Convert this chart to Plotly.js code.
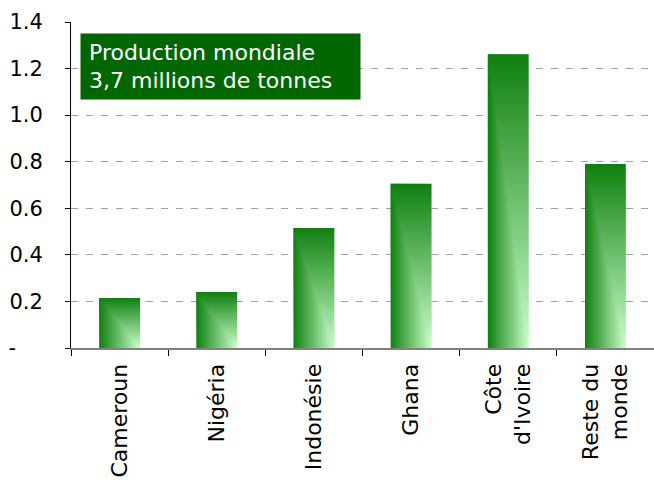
<!DOCTYPE html>
<html>
<head>
<meta charset="utf-8">
<script src="https://cdn.plot.ly/plotly-3.0.1.min.js"></script>
<style>
html,body{margin:0;padding:0;background:#fff;}
#chart{width:654px;height:482px;}
</style>
</head>
<body>
<div id="chart"></div>
<script>
const categories = ["Cameroun", "Nigéria", "Indonésie", "Ghana", "Côte<br>d'Ivoire", "Reste du<br>monde"];
const production = [0.215, 0.24, 0.515, 0.705, 1.262, 0.79];
const yTickVals = [0, 0.2, 0.4, 0.6, 0.8, 1.0, 1.2, 1.4];
const yTickText = ["-\u00A0\u00A0\u00A0\u00A0", "0.2", "0.4", "0.6", "0.8", "1.0", "1.2", "1.4"];
const noteText = "Production mondiale<br>3,7 millions de tonnes";

const FONT = "DejaVu Sans, Verdana, sans-serif";

const trace = {
  type: "bar",
  x: categories,
  y: production,
  width: 0.42,
  marker: {color: "#2e8b2e", line: {width: 0}},
  hoverinfo: "none"
};

const layout = {
  width: 654,
  height: 482,
  margin: {l: 71, r: 0, t: 22, b: 134, pad: 0},
  paper_bgcolor: "#ffffff",
  plot_bgcolor: "#ffffff",
  showlegend: false,
  font: {family: FONT, size: 21, color: "#000000"},
  xaxis: {
    type: "category",
    tickangle: -90,
    tickson: "boundaries",
    ticks: "outside",
    ticklen: 6,
    tickcolor: "#000000",
    tickwidth: 1,
    showline: true,
    linecolor: "#808080",
    linewidth: 2,
    showgrid: false,
    ticklabelstandoff: 5,
    tickfont: {family: FONT, size: 22, color: "#000000"}
  },
  yaxis: {
    range: [0, 1.4],
    tickmode: "array",
    tickvals: yTickVals,
    ticktext: yTickText,
    ticks: "outside",
    ticklen: 5,
    tickcolor: "#000000",
    showline: true,
    linecolor: "#000000",
    linewidth: 1,
    zeroline: false,
    showgrid: true,
    gridcolor: "#a0a0a0",
    gridwidth: 1,
    griddash: "7px,8px",
    ticklabelstandoff: 18,
    tickfont: {family: FONT, size: 21, color: "#000000"}
  },
  annotations: [{
    xref: "paper", yref: "paper",
    x: 0.0155, y: 0.966,
    xanchor: "left", yanchor: "top",
    text: noteText,
    showarrow: false,
    align: "left",
    bgcolor: "#006600",
    borderpad: 8,
    width: 263,
    height: 49,
    font: {family: FONT, size: 22, color: "#ffffff"}
  }]
};

Plotly.newPlot("chart", [trace], layout, {displayModeBar: false, staticPlot: true}).then(function (gd) {
  const svg = gd.querySelector("svg.main-svg");
  const ns = "http://www.w3.org/2000/svg";
  let defs = svg.querySelector("defs");
  if (!defs) { defs = document.createElementNS(ns, "defs"); svg.insertBefore(defs, svg.firstChild); }
  function makeGrad(id, x2, y2) {
    const grad = document.createElementNS(ns, "linearGradient");
    grad.setAttribute("id", id);
    grad.setAttribute("x1", "0"); grad.setAttribute("y1", "0");
    grad.setAttribute("x2", x2); grad.setAttribute("y2", y2);
    [["0", "#0f800f"], ["1", "#ccffcc"]].forEach(function (s) {
      const st = document.createElementNS(ns, "stop");
      st.setAttribute("offset", s[0]);
      st.setAttribute("stop-color", s[1]);
      grad.appendChild(st);
    });
    defs.appendChild(grad);
  }
  makeGrad("barGradV", "0", "1");
  makeGrad("barGradH", "1", "0");
  gd.querySelectorAll(".barlayer .point path").forEach(function (p) {
    p.style.fill = "url(#barGradV)";
    const c = p.cloneNode(false);
    c.style.fill = "url(#barGradH)";
    c.style.mixBlendMode = "darken";
    p.parentNode.insertBefore(c, p.nextSibling);
  });
});
</script>
</body>
</html>
